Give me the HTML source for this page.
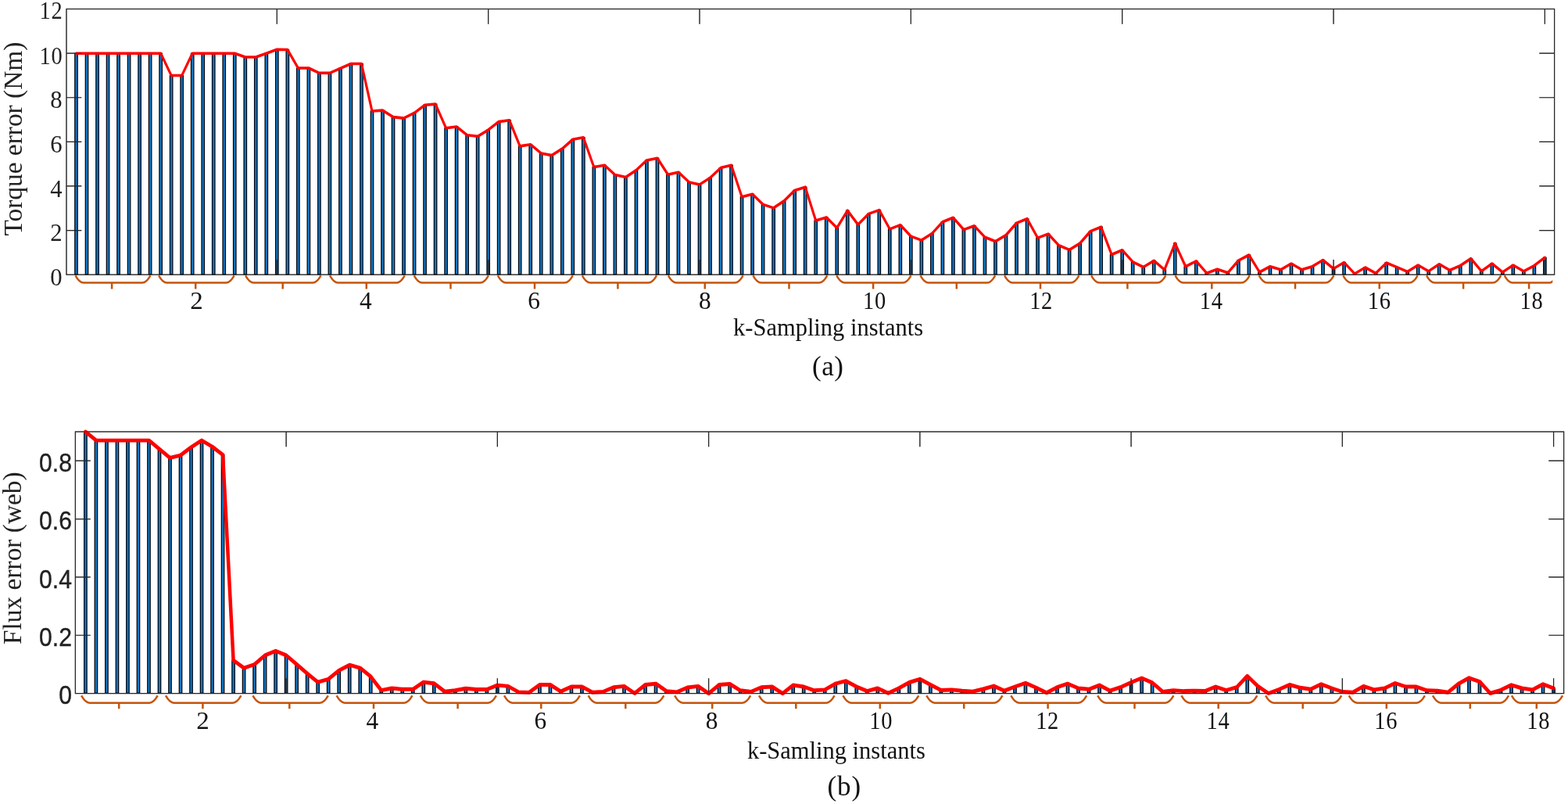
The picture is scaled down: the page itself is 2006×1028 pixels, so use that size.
<!DOCTYPE html>
<html lang="en"><head><meta charset="utf-8"><title>Torque and flux error versus k-sampling instants</title>
<style>html,body{margin:0;padding:0;background:#fff;}body{width:2006px;height:1028px;overflow:hidden;}svg{display:block;}</style>
</head><body>
<svg width="2006" height="1028" viewBox="0 0 2006 1028">
<defs><clipPath id="bc1"><rect x="0" y="340" width="1986.3" height="60"/></clipPath></defs>
<rect width="2006" height="1028" fill="#ffffff"/>
<g fill="#157ac6" stroke="#000510" stroke-width="1.25">
<rect x="95.78" y="68.2" width="3.45" height="282.6"/>
<rect x="109.29" y="68.2" width="3.45" height="282.6"/>
<rect x="122.81" y="68.2" width="3.45" height="282.6"/>
<rect x="136.33" y="68.2" width="3.45" height="282.6"/>
<rect x="149.84" y="68.2" width="3.45" height="282.6"/>
<rect x="163.36" y="68.2" width="3.45" height="282.6"/>
<rect x="176.88" y="68.2" width="3.45" height="282.6"/>
<rect x="190.39" y="68.2" width="3.45" height="282.6"/>
<rect x="203.91" y="68.2" width="3.45" height="282.6"/>
<rect x="217.43" y="96.5" width="3.45" height="254.3"/>
<rect x="230.94" y="96.5" width="3.45" height="254.3"/>
<rect x="244.46" y="68.2" width="3.45" height="282.6"/>
<rect x="257.98" y="68.2" width="3.45" height="282.6"/>
<rect x="271.5" y="68.2" width="3.45" height="282.6"/>
<rect x="285.01" y="68.2" width="3.45" height="282.6"/>
<rect x="298.53" y="68.2" width="3.45" height="282.6"/>
<rect x="312.05" y="73" width="3.45" height="277.8"/>
<rect x="325.56" y="73" width="3.45" height="277.8"/>
<rect x="339.08" y="68.3" width="3.45" height="282.5"/>
<rect x="352.6" y="63.3" width="3.45" height="287.5"/>
<rect x="366.11" y="63.5" width="3.45" height="287.3"/>
<rect x="379.63" y="87" width="3.45" height="263.8"/>
<rect x="393.15" y="87" width="3.45" height="263.8"/>
<rect x="406.67" y="93.3" width="3.45" height="257.5"/>
<rect x="420.18" y="93.4" width="3.45" height="257.4"/>
<rect x="433.7" y="87.4" width="3.45" height="263.4"/>
<rect x="447.22" y="81.5" width="3.45" height="269.3"/>
<rect x="460.73" y="81.5" width="3.45" height="269.3"/>
<rect x="474.25" y="142" width="3.45" height="208.8"/>
<rect x="487.77" y="141.1" width="3.45" height="209.7"/>
<rect x="501.28" y="149.6" width="3.45" height="201.2"/>
<rect x="514.8" y="151.1" width="3.45" height="199.7"/>
<rect x="528.32" y="144.4" width="3.45" height="206.4"/>
<rect x="541.84" y="134.2" width="3.45" height="216.6"/>
<rect x="555.35" y="133.1" width="3.45" height="217.7"/>
<rect x="568.87" y="163.8" width="3.45" height="187"/>
<rect x="582.39" y="162" width="3.45" height="188.8"/>
<rect x="595.9" y="172.8" width="3.45" height="178"/>
<rect x="609.42" y="174.3" width="3.45" height="176.5"/>
<rect x="622.94" y="166.1" width="3.45" height="184.7"/>
<rect x="636.45" y="155.6" width="3.45" height="195.2"/>
<rect x="649.97" y="153.8" width="3.45" height="197"/>
<rect x="663.49" y="186.9" width="3.45" height="163.9"/>
<rect x="677.01" y="184.7" width="3.45" height="166.1"/>
<rect x="690.52" y="195.9" width="3.45" height="154.9"/>
<rect x="704.04" y="198.6" width="3.45" height="152.2"/>
<rect x="717.56" y="190.2" width="3.45" height="160.6"/>
<rect x="731.07" y="178.2" width="3.45" height="172.6"/>
<rect x="744.59" y="175.8" width="3.45" height="175"/>
<rect x="758.11" y="213.6" width="3.45" height="137.2"/>
<rect x="771.62" y="211.2" width="3.45" height="139.6"/>
<rect x="785.14" y="223.6" width="3.45" height="127.2"/>
<rect x="798.66" y="226.6" width="3.45" height="124.2"/>
<rect x="812.18" y="217.6" width="3.45" height="133.2"/>
<rect x="825.69" y="204.9" width="3.45" height="145.9"/>
<rect x="839.21" y="202.2" width="3.45" height="148.6"/>
<rect x="852.73" y="223.2" width="3.45" height="127.6"/>
<rect x="866.24" y="220.2" width="3.45" height="130.6"/>
<rect x="879.76" y="232.9" width="3.45" height="117.9"/>
<rect x="893.28" y="236" width="3.45" height="114.8"/>
<rect x="906.79" y="227.3" width="3.45" height="123.5"/>
<rect x="920.31" y="214.6" width="3.45" height="136.2"/>
<rect x="933.83" y="211.2" width="3.45" height="139.6"/>
<rect x="947.35" y="251.7" width="3.45" height="99.1"/>
<rect x="960.86" y="248.2" width="3.45" height="102.6"/>
<rect x="974.38" y="261.4" width="3.45" height="89.4"/>
<rect x="987.9" y="265.9" width="3.45" height="84.9"/>
<rect x="1001.41" y="256.9" width="3.45" height="93.9"/>
<rect x="1014.93" y="243.4" width="3.45" height="107.4"/>
<rect x="1028.45" y="239.2" width="3.45" height="111.6"/>
<rect x="1041.97" y="282.1" width="3.45" height="68.7"/>
<rect x="1055.48" y="277.9" width="3.45" height="72.9"/>
<rect x="1069" y="291.4" width="3.45" height="59.4"/>
<rect x="1082.52" y="269.2" width="3.45" height="81.6"/>
<rect x="1096.03" y="287.2" width="3.45" height="63.6"/>
<rect x="1109.55" y="273.4" width="3.45" height="77.4"/>
<rect x="1123.07" y="268.6" width="3.45" height="82.2"/>
<rect x="1136.58" y="292.9" width="3.45" height="57.9"/>
<rect x="1150.1" y="287.6" width="3.45" height="63.2"/>
<rect x="1163.62" y="302.1" width="3.45" height="48.7"/>
<rect x="1177.13" y="307.1" width="3.45" height="43.7"/>
<rect x="1190.65" y="298.5" width="3.45" height="52.3"/>
<rect x="1204.17" y="283.8" width="3.45" height="67"/>
<rect x="1217.69" y="278.3" width="3.45" height="72.5"/>
<rect x="1231.2" y="293.6" width="3.45" height="57.2"/>
<rect x="1244.72" y="288.7" width="3.45" height="62.1"/>
<rect x="1258.24" y="303.3" width="3.45" height="47.5"/>
<rect x="1271.75" y="308.6" width="3.45" height="42.2"/>
<rect x="1285.27" y="300.6" width="3.45" height="50.2"/>
<rect x="1298.79" y="285.1" width="3.45" height="65.7"/>
<rect x="1312.31" y="279.7" width="3.45" height="71.1"/>
<rect x="1325.82" y="304.1" width="3.45" height="46.7"/>
<rect x="1339.34" y="299.1" width="3.45" height="51.7"/>
<rect x="1352.86" y="313.8" width="3.45" height="37"/>
<rect x="1366.37" y="319.4" width="3.45" height="31.4"/>
<rect x="1379.89" y="311.1" width="3.45" height="39.7"/>
<rect x="1393.41" y="295.6" width="3.45" height="55.2"/>
<rect x="1406.92" y="290.2" width="3.45" height="60.6"/>
<rect x="1420.44" y="325.5" width="3.45" height="25.3"/>
<rect x="1433.96" y="319.8" width="3.45" height="31"/>
<rect x="1447.48" y="334.8" width="3.45" height="16"/>
<rect x="1460.99" y="341.5" width="3.45" height="9.3"/>
<rect x="1474.51" y="333.3" width="3.45" height="17.5"/>
<rect x="1488.03" y="344.9" width="3.45" height="5.9"/>
<rect x="1501.54" y="311.1" width="3.45" height="39.7"/>
<rect x="1515.06" y="340.9" width="3.45" height="9.9"/>
<rect x="1528.58" y="333.8" width="3.45" height="17"/>
<rect x="1542.09" y="349.3" width="3.45" height="1.5"/>
<rect x="1555.61" y="344.2" width="3.45" height="6.6"/>
<rect x="1569.13" y="348.7" width="3.45" height="2.1"/>
<rect x="1582.64" y="333.1" width="3.45" height="17.7"/>
<rect x="1596.16" y="326" width="3.45" height="24.8"/>
<rect x="1609.68" y="348" width="3.45" height="2.8"/>
<rect x="1623.2" y="340.7" width="3.45" height="10.1"/>
<rect x="1636.71" y="344.8" width="3.45" height="6"/>
<rect x="1650.23" y="337" width="3.45" height="13.8"/>
<rect x="1663.75" y="344.8" width="3.45" height="6"/>
<rect x="1677.26" y="340.7" width="3.45" height="10.1"/>
<rect x="1690.78" y="332.5" width="3.45" height="18.3"/>
<rect x="1704.3" y="343.5" width="3.45" height="7.3"/>
<rect x="1717.82" y="335.5" width="3.45" height="15.3"/>
<rect x="1731.33" y="350" width="3.45" height="0.8"/>
<rect x="1744.85" y="342" width="3.45" height="8.8"/>
<rect x="1758.37" y="349.3" width="3.45" height="1.5"/>
<rect x="1771.88" y="336" width="3.45" height="14.8"/>
<rect x="1785.4" y="341.6" width="3.45" height="9.2"/>
<rect x="1798.92" y="347.4" width="3.45" height="3.4"/>
<rect x="1812.43" y="339" width="3.45" height="11.8"/>
<rect x="1825.95" y="346.8" width="3.45" height="4"/>
<rect x="1839.47" y="337.7" width="3.45" height="13.1"/>
<rect x="1852.99" y="345.5" width="3.45" height="5.3"/>
<rect x="1866.5" y="339.6" width="3.45" height="11.2"/>
<rect x="1880.02" y="330.6" width="3.45" height="20.2"/>
<rect x="1893.54" y="346.8" width="3.45" height="4"/>
<rect x="1907.05" y="337" width="3.45" height="13.8"/>
<rect x="1920.57" y="348" width="3.45" height="2.8"/>
<rect x="1934.09" y="339" width="3.45" height="11.8"/>
<rect x="1947.6" y="346.8" width="3.45" height="4"/>
<rect x="1961.12" y="339.6" width="3.45" height="11.2"/>
<rect x="1974.64" y="329.3" width="3.45" height="21.5"/>
</g>
<g stroke="#262626" stroke-width="1.2" fill="none" stroke-linecap="butt"><rect x="85" y="11.5" width="1903.6" height="339.7"/><path d="M85 294.58h19.3M1988.6 294.58h-19.3M85 237.97h19.3M1988.6 237.97h-19.3M85 181.35h19.3M1988.6 181.35h-19.3M85 124.73h19.3M1988.6 124.73h-19.3M85 68.12h19.3M1988.6 68.12h-19.3M354.32 11.5v19.3M354.32 351.2v-19.3M624.66 11.5v19.3M624.66 351.2v-19.3M895 11.5v19.3M895 351.2v-19.3M1165.34 11.5v19.3M1165.34 351.2v-19.3M1435.68 11.5v19.3M1435.68 351.2v-19.3M1706.02 11.5v19.3M1706.02 351.2v-19.3M1976.36 11.5v19.3M1976.36 351.2v-19.3"/></g>
<polyline transform="scale(1 1.16)" points="97.5,58.79 111.02,58.79 124.53,58.79 138.05,58.79 151.57,58.79 165.08,58.79 178.6,58.79 192.12,58.79 205.64,58.79 219.15,83.19 232.67,83.19 246.19,58.79 259.7,58.79 273.22,58.79 286.74,58.79 300.25,58.79 313.77,62.93 327.29,62.93 340.81,58.88 354.32,54.57 367.84,54.74 381.36,75 394.87,75 408.39,80.43 421.91,80.52 435.43,75.34 448.94,70.26 462.46,70.26 475.98,122.41 489.49,121.64 503.01,128.97 516.53,130.26 530.04,124.48 543.56,115.69 557.08,114.74 570.6,141.21 584.11,139.66 597.63,148.97 611.15,150.26 624.66,143.19 638.18,134.14 651.7,132.59 665.21,161.12 678.73,159.22 692.25,168.88 705.76,171.21 719.28,163.97 732.8,153.62 746.32,151.55 759.83,184.14 773.35,182.07 786.87,192.76 800.38,195.34 813.9,187.59 827.42,176.64 840.93,174.31 854.45,192.41 867.97,189.83 881.49,200.78 895,203.45 908.52,195.95 922.04,185 935.55,182.07 949.07,216.98 962.59,213.97 976.11,225.34 989.62,229.22 1003.14,221.47 1016.66,209.83 1030.17,206.21 1043.69,243.19 1057.21,239.57 1070.72,251.21 1084.24,232.07 1097.76,247.59 1111.28,235.69 1124.79,231.55 1138.31,252.5 1151.83,247.93 1165.34,260.43 1178.86,264.74 1192.38,257.33 1205.89,244.66 1219.41,239.91 1232.93,253.1 1246.44,248.88 1259.96,261.47 1273.48,266.03 1287,259.14 1300.51,245.78 1314.03,241.12 1327.55,262.16 1341.06,257.84 1354.58,270.52 1368.1,275.34 1381.62,268.19 1395.13,254.83 1408.65,250.17 1422.17,280.6 1435.68,275.69 1449.2,288.62 1462.72,294.4 1476.23,287.33 1489.75,297.33 1503.27,268.19 1516.78,293.88 1530.3,287.76 1543.82,301.12 1557.34,296.72 1570.85,300.6 1584.37,287.16 1597.89,281.03 1611.4,300 1624.92,293.71 1638.44,297.24 1651.95,290.52 1665.47,297.24 1678.99,293.71 1692.51,286.64 1706.02,296.12 1719.54,289.22 1733.06,301.72 1746.57,294.83 1760.09,301.12 1773.61,289.66 1787.12,294.48 1800.64,299.48 1814.16,292.24 1827.68,298.97 1841.19,291.12 1854.71,297.84 1868.23,292.76 1881.74,285 1895.26,298.97 1908.78,290.52 1922.29,300 1935.81,292.24 1949.33,298.97 1962.85,292.76 1976.36,283.88" fill="none" stroke="#FF0000" stroke-width="3.1" stroke-linejoin="round" stroke-linecap="round"/>
<g stroke="#262626" stroke-width="1.2" fill="none" stroke-linecap="butt" opacity="0.5"><rect x="85" y="11.5" width="1903.6" height="339.7"/><path d="M85 294.58h19.3M1988.6 294.58h-19.3M85 237.97h19.3M1988.6 237.97h-19.3M85 181.35h19.3M1988.6 181.35h-19.3M85 124.73h19.3M1988.6 124.73h-19.3M85 68.12h19.3M1988.6 68.12h-19.3M354.32 11.5v19.3M354.32 351.2v-19.3M624.66 11.5v19.3M624.66 351.2v-19.3M895 11.5v19.3M895 351.2v-19.3M1165.34 11.5v19.3M1165.34 351.2v-19.3M1435.68 11.5v19.3M1435.68 351.2v-19.3M1706.02 11.5v19.3M1706.02 351.2v-19.3M1976.36 11.5v19.3M1976.36 351.2v-19.3"/></g>
<g font-family='"Liberation Serif", "DejaVu Serif", serif' font-size="32" fill="#222" text-anchor="end">
<text transform="translate(79.6 364.9) scale(0.96 1)">0</text>
<text transform="translate(79.6 308.28) scale(0.96 1)">2</text>
<text transform="translate(79.6 251.67) scale(0.96 1)">4</text>
<text transform="translate(79.6 195.05) scale(0.96 1)">6</text>
<text transform="translate(79.6 138.43) scale(0.96 1)">8</text>
<text transform="translate(80.4 81.82) scale(0.89 1)" letter-spacing="0.8">10</text>
<text transform="translate(80.4 24.3) scale(0.89 1)" letter-spacing="0.8">12</text>
</g>
<g fill="none" stroke="#c5540a" stroke-width="2.5" stroke-linecap="butt" clip-path="url(#bc1)">
<path d="M96.5 352.3Q101.7 361.6 106.9 361.6H182Q187.2 361.6 192.4 352.3M143.1 361.6V369.4"/>
<path d="M203.1 352.3Q208.3 361.6 213.5 361.6H289.2Q294.4 361.6 299.6 352.3M250.2 361.6V369.4"/>
<path d="M314.1 352.3Q319.3 361.6 324.5 361.6H400.1Q405.3 361.6 410.5 352.3M361.7 361.6V369.4"/>
<path d="M422 352.3Q427.2 361.6 432.4 361.6H507.3Q512.5 361.6 517.7 352.3M468.8 361.6V369.4"/>
<path d="M529.7 352.3Q534.9 361.6 540.1 361.6H614.5Q619.7 361.6 624.9 352.3M576.5 361.6V369.4"/>
<path d="M636.8 352.3Q642 361.6 647.2 361.6H722.4Q727.6 361.6 732.8 352.3M684 361.6V369.4"/>
<path d="M744.8 352.3Q750 361.6 755.2 361.6H829.6Q834.8 361.6 840 352.3M790.4 361.6V369.4"/>
<path d="M854.9 352.3Q860.1 361.6 865.3 361.6H940.2Q945.4 361.6 950.6 352.3M901.8 361.6V369.4"/>
<path d="M963.4 352.3Q968.6 361.6 973.8 361.6H1047.9Q1053.1 361.6 1058.3 352.3M1009.5 361.6V369.4"/>
<path d="M1070.3 352.3Q1075.5 361.6 1080.7 361.6H1155.1Q1160.3 361.6 1165.5 352.3M1117.1 361.6V369.4"/>
<path d="M1177.5 352.3Q1182.7 361.6 1187.9 361.6H1262.8Q1268 361.6 1273.2 352.3M1223.8 361.6V369.4"/>
<path d="M1285.1 352.3Q1290.3 361.6 1295.5 361.6H1370Q1375.2 361.6 1380.4 352.3M1331 361.6V369.4"/>
<path d="M1396.1 352.3Q1401.3 361.6 1406.5 361.6H1480.9Q1486.1 361.6 1491.3 352.3M1442.4 361.6V369.4"/>
<path d="M1503.5 352.3Q1508.7 361.6 1513.9 361.6H1588.3Q1593.5 361.6 1598.7 352.3M1550.3 361.6V369.4"/>
<path d="M1610.7 352.3Q1615.9 361.6 1621.1 361.6H1696Q1701.2 361.6 1706.4 352.3M1657 361.6V369.4"/>
<path d="M1718.3 352.3Q1723.5 361.6 1728.7 361.6H1803.2Q1808.4 361.6 1813.6 352.3M1764.7 361.6V369.4"/>
<path d="M1825 352.3Q1830.2 361.6 1835.4 361.6H1909.8Q1915 361.6 1920.2 352.3M1872.1 361.6V369.4"/>
<path d="M1924.7 352.3Q1929.9 361.6 1935.1 361.6H1981.8Q1987 361.6 1992.2 352.3M1956.1 361.6V369.4"/>
</g>
<g font-family='"Liberation Serif", "DejaVu Serif", serif' font-size="32" fill="#111" text-anchor="middle">
<text transform="translate(251.5 394.8) scale(1.03 1)">2</text>
<text transform="translate(467.8 394.8) scale(0.98 1)">4</text>
<text transform="translate(683.2 394.8) scale(0.98 1)">6</text>
<text transform="translate(901.8 394.8) scale(0.98 1)">8</text>
<text transform="translate(1119 394.8) scale(0.89 1)" letter-spacing="0.8">10</text>
<text transform="translate(1332.1 394.8) scale(0.89 1)" letter-spacing="0.8">12</text>
<text transform="translate(1549.7 394.8) scale(0.89 1)" letter-spacing="0.8">14</text>
<text transform="translate(1764.7 394.8) scale(0.89 1)" letter-spacing="0.8">16</text>
<text transform="translate(1959.5 394.8) scale(0.89 1)" letter-spacing="0.8">18</text>
</g>
<g fill="#157ac6" stroke="#000510" stroke-width="1.25">
<rect x="107.68" y="552" width="3.45" height="334.2"/>
<rect x="121.19" y="563.1" width="3.45" height="323.1"/>
<rect x="134.7" y="563.1" width="3.45" height="323.1"/>
<rect x="148.21" y="563.1" width="3.45" height="323.1"/>
<rect x="161.72" y="563.1" width="3.45" height="323.1"/>
<rect x="175.24" y="563.1" width="3.45" height="323.1"/>
<rect x="188.75" y="563.1" width="3.45" height="323.1"/>
<rect x="202.26" y="574.3" width="3.45" height="311.9"/>
<rect x="215.77" y="585.4" width="3.45" height="300.8"/>
<rect x="229.28" y="582.1" width="3.45" height="304.1"/>
<rect x="242.8" y="571.8" width="3.45" height="314.4"/>
<rect x="256.31" y="563.1" width="3.45" height="323.1"/>
<rect x="269.82" y="571.1" width="3.45" height="315.1"/>
<rect x="283.33" y="581.5" width="3.45" height="304.7"/>
<rect x="296.84" y="844.3" width="3.45" height="41.9"/>
<rect x="310.36" y="854.1" width="3.45" height="32.1"/>
<rect x="323.87" y="849.5" width="3.45" height="36.7"/>
<rect x="337.38" y="837.9" width="3.45" height="48.3"/>
<rect x="350.89" y="832.3" width="3.45" height="53.9"/>
<rect x="364.4" y="837.9" width="3.45" height="48.3"/>
<rect x="377.91" y="849.5" width="3.45" height="36.7"/>
<rect x="391.43" y="861.2" width="3.45" height="25"/>
<rect x="404.94" y="872.2" width="3.45" height="14"/>
<rect x="418.45" y="868.3" width="3.45" height="17.9"/>
<rect x="431.96" y="857.3" width="3.45" height="28.9"/>
<rect x="445.48" y="850.2" width="3.45" height="36"/>
<rect x="458.99" y="854.1" width="3.45" height="32.1"/>
<rect x="472.5" y="865.1" width="3.45" height="21.1"/>
<rect x="486.01" y="882.6" width="3.45" height="3.6"/>
<rect x="499.52" y="880" width="3.45" height="6.2"/>
<rect x="513.03" y="881.3" width="3.45" height="4.9"/>
<rect x="526.55" y="881.3" width="3.45" height="4.9"/>
<rect x="540.06" y="872.2" width="3.45" height="14"/>
<rect x="553.57" y="873.8" width="3.45" height="12.4"/>
<rect x="567.08" y="884.1" width="3.45" height="2.1"/>
<rect x="580.6" y="882.8" width="3.45" height="3.4"/>
<rect x="594.11" y="880.3" width="3.45" height="5.9"/>
<rect x="607.62" y="881.5" width="3.45" height="4.7"/>
<rect x="621.13" y="881.5" width="3.45" height="4.7"/>
<rect x="634.64" y="876.1" width="3.45" height="10.1"/>
<rect x="648.15" y="877.4" width="3.45" height="8.8"/>
<rect x="661.67" y="884.9" width="3.45" height="1.3"/>
<rect x="675.18" y="885.4" width="3.45" height="0.8"/>
<rect x="688.69" y="875.5" width="3.45" height="10.7"/>
<rect x="702.2" y="875.5" width="3.45" height="10.7"/>
<rect x="715.71" y="884.1" width="3.45" height="2.1"/>
<rect x="729.23" y="878" width="3.45" height="8.2"/>
<rect x="742.74" y="878" width="3.45" height="8.2"/>
<rect x="756.25" y="885.2" width="3.45" height="1"/>
<rect x="769.76" y="884.5" width="3.45" height="1.7"/>
<rect x="783.27" y="878.7" width="3.45" height="7.5"/>
<rect x="796.79" y="877.4" width="3.45" height="8.8"/>
<rect x="810.3" y="886.5" width="3.45" height="0.1"/>
<rect x="823.81" y="875.5" width="3.45" height="10.7"/>
<rect x="837.32" y="874.2" width="3.45" height="12"/>
<rect x="850.84" y="883.6" width="3.45" height="2.6"/>
<rect x="864.35" y="884.9" width="3.45" height="1.3"/>
<rect x="877.86" y="879" width="3.45" height="7.2"/>
<rect x="891.37" y="877.4" width="3.45" height="8.8"/>
<rect x="904.88" y="886.7" width="3.45" height="0.1"/>
<rect x="918.39" y="875.5" width="3.45" height="10.7"/>
<rect x="931.91" y="874.5" width="3.45" height="11.7"/>
<rect x="945.42" y="882.8" width="3.45" height="3.4"/>
<rect x="958.93" y="884.5" width="3.45" height="1.7"/>
<rect x="972.44" y="878.7" width="3.45" height="7.5"/>
<rect x="985.95" y="878" width="3.45" height="8.2"/>
<rect x="999.47" y="886.7" width="3.45" height="0.1"/>
<rect x="1012.98" y="876" width="3.45" height="10.2"/>
<rect x="1026.49" y="878" width="3.45" height="8.2"/>
<rect x="1040" y="882.8" width="3.45" height="3.4"/>
<rect x="1053.52" y="881.9" width="3.45" height="4.3"/>
<rect x="1067.03" y="874.2" width="3.45" height="12"/>
<rect x="1080.54" y="870.7" width="3.45" height="15.5"/>
<rect x="1094.05" y="878" width="3.45" height="8.2"/>
<rect x="1107.56" y="883.6" width="3.45" height="2.6"/>
<rect x="1121.08" y="880" width="3.45" height="6.2"/>
<rect x="1134.59" y="886.2" width="3.45" height="0.1"/>
<rect x="1148.1" y="880" width="3.45" height="6.2"/>
<rect x="1161.61" y="872.5" width="3.45" height="13.7"/>
<rect x="1175.12" y="868.3" width="3.45" height="17.9"/>
<rect x="1188.64" y="875.5" width="3.45" height="10.7"/>
<rect x="1202.15" y="882.6" width="3.45" height="3.6"/>
<rect x="1215.66" y="881.9" width="3.45" height="4.3"/>
<rect x="1229.17" y="883.2" width="3.45" height="3"/>
<rect x="1242.68" y="884.1" width="3.45" height="2.1"/>
<rect x="1256.2" y="881" width="3.45" height="5.2"/>
<rect x="1269.71" y="877.1" width="3.45" height="9.1"/>
<rect x="1283.22" y="883.2" width="3.45" height="3"/>
<rect x="1296.73" y="878" width="3.45" height="8.2"/>
<rect x="1310.24" y="873.3" width="3.45" height="12.9"/>
<rect x="1323.76" y="879.3" width="3.45" height="6.9"/>
<rect x="1337.27" y="885.8" width="3.45" height="0.4"/>
<rect x="1350.78" y="878.7" width="3.45" height="7.5"/>
<rect x="1364.29" y="874.2" width="3.45" height="12"/>
<rect x="1377.8" y="880" width="3.45" height="6.2"/>
<rect x="1391.32" y="881.3" width="3.45" height="4.9"/>
<rect x="1404.83" y="876.1" width="3.45" height="10.1"/>
<rect x="1418.34" y="883.2" width="3.45" height="3"/>
<rect x="1431.85" y="878.7" width="3.45" height="7.5"/>
<rect x="1445.36" y="872.5" width="3.45" height="13.7"/>
<rect x="1458.88" y="867" width="3.45" height="19.2"/>
<rect x="1472.39" y="872.9" width="3.45" height="13.3"/>
<rect x="1485.9" y="884.5" width="3.45" height="1.7"/>
<rect x="1499.41" y="882.8" width="3.45" height="3.4"/>
<rect x="1512.92" y="883.6" width="3.45" height="2.6"/>
<rect x="1526.44" y="883.2" width="3.45" height="3"/>
<rect x="1539.95" y="883.6" width="3.45" height="2.6"/>
<rect x="1553.46" y="878" width="3.45" height="8.2"/>
<rect x="1566.97" y="882.6" width="3.45" height="3.6"/>
<rect x="1580.48" y="878.7" width="3.45" height="7.5"/>
<rect x="1594" y="864.4" width="3.45" height="21.8"/>
<rect x="1607.51" y="877.4" width="3.45" height="8.8"/>
<rect x="1621.02" y="886.5" width="3.45" height="0.1"/>
<rect x="1634.53" y="881.5" width="3.45" height="4.7"/>
<rect x="1648.04" y="875.5" width="3.45" height="10.7"/>
<rect x="1661.56" y="879.3" width="3.45" height="6.9"/>
<rect x="1675.07" y="881.3" width="3.45" height="4.9"/>
<rect x="1688.58" y="874.8" width="3.45" height="11.4"/>
<rect x="1702.09" y="880" width="3.45" height="6.2"/>
<rect x="1715.6" y="884.5" width="3.45" height="1.7"/>
<rect x="1729.12" y="885.2" width="3.45" height="1"/>
<rect x="1742.63" y="877.4" width="3.45" height="8.8"/>
<rect x="1756.14" y="881.9" width="3.45" height="4.3"/>
<rect x="1769.65" y="880" width="3.45" height="6.2"/>
<rect x="1783.16" y="873.5" width="3.45" height="12.7"/>
<rect x="1796.68" y="878" width="3.45" height="8.2"/>
<rect x="1810.19" y="878" width="3.45" height="8.2"/>
<rect x="1823.7" y="882.8" width="3.45" height="3.4"/>
<rect x="1837.21" y="883.2" width="3.45" height="3"/>
<rect x="1850.72" y="885.2" width="3.45" height="1"/>
<rect x="1864.24" y="874.2" width="3.45" height="12"/>
<rect x="1877.75" y="866.8" width="3.45" height="19.4"/>
<rect x="1891.26" y="871.6" width="3.45" height="14.6"/>
<rect x="1904.77" y="886.5" width="3.45" height="0.1"/>
<rect x="1918.28" y="882.3" width="3.45" height="3.9"/>
<rect x="1931.8" y="875.8" width="3.45" height="10.4"/>
<rect x="1945.31" y="880" width="3.45" height="6.2"/>
<rect x="1958.82" y="881.9" width="3.45" height="4.3"/>
<rect x="1972.33" y="874.8" width="3.45" height="11.4"/>
<rect x="1985.84" y="880" width="3.45" height="6.2"/>
</g>
<g stroke="#262626" stroke-width="1.2" fill="none" stroke-linecap="butt"><rect x="96.4" y="552" width="1904.2" height="334.6"/><path d="M96.4 812.24h19.3M2000.6 812.24h-19.3M96.4 737.89h19.3M2000.6 737.89h-19.3M96.4 663.53h19.3M2000.6 663.53h-19.3M96.4 589.18h19.3M2000.6 589.18h-19.3M366.13 552v19.3M366.13 886.6v-19.3M636.37 552v19.3M636.37 886.6v-19.3M906.61 552v19.3M906.61 886.6v-19.3M1176.85 552v19.3M1176.85 886.6v-19.3M1447.09 552v19.3M1447.09 886.6v-19.3M1717.33 552v19.3M1717.33 886.6v-19.3M1987.57 552v19.3M1987.57 886.6v-19.3"/></g>
<polyline transform="scale(1 1.1)" points="109.4,501.82 122.91,511.91 136.42,511.91 149.94,511.91 163.45,511.91 176.96,511.91 190.47,511.91 203.98,522.09 217.5,532.18 231.01,529.18 244.52,519.82 258.03,511.91 271.54,519.18 285.06,528.64 298.57,767.55 312.08,776.45 325.59,772.27 339.1,761.73 352.62,756.64 366.13,761.73 379.64,772.27 393.15,782.91 406.66,792.91 420.18,789.36 433.69,779.36 447.2,772.91 460.71,776.45 474.22,786.45 487.74,802.36 501.25,800 514.76,801.18 528.27,801.18 541.78,792.91 555.3,794.36 568.81,803.73 582.32,802.55 595.83,800.27 609.34,801.36 622.86,801.36 636.37,796.45 649.88,797.64 663.39,804.45 676.9,804.91 690.42,795.91 703.93,795.91 717.44,803.73 730.95,798.18 744.46,798.18 757.98,804.73 771.49,804.09 785,798.82 798.51,797.64 812.02,805.91 825.54,795.91 839.05,794.73 852.56,803.27 866.07,804.45 879.58,799.09 893.1,797.64 906.61,806.09 920.12,795.91 933.63,795 947.14,802.55 960.66,804.09 974.17,798.82 987.68,798.18 1001.19,806.09 1014.7,796.36 1028.22,798.18 1041.73,802.55 1055.24,801.73 1068.75,794.73 1082.26,791.55 1095.78,798.18 1109.29,803.27 1122.8,800 1136.31,805.64 1149.82,800 1163.34,793.18 1176.85,789.36 1190.36,795.91 1203.87,802.36 1217.38,801.73 1230.9,802.91 1244.41,803.73 1257.92,800.91 1271.43,797.36 1284.94,802.91 1298.46,798.18 1311.97,793.91 1325.48,799.36 1338.99,805.27 1352.5,798.82 1366.02,794.73 1379.53,800 1393.04,801.18 1406.55,796.45 1420.06,802.91 1433.58,798.82 1447.09,793.18 1460.6,788.18 1474.11,793.55 1487.62,804.09 1501.14,802.55 1514.65,803.27 1528.16,802.91 1541.67,803.27 1555.18,798.18 1568.7,802.36 1582.21,798.82 1595.72,785.82 1609.23,797.64 1622.74,805.91 1636.26,801.36 1649.77,795.91 1663.28,799.36 1676.79,801.18 1690.3,795.27 1703.82,800 1717.33,804.09 1730.84,804.73 1744.35,797.64 1757.86,801.73 1771.38,800 1784.89,794.09 1798.4,798.18 1811.91,798.18 1825.42,802.55 1838.94,802.91 1852.45,804.73 1865.96,794.73 1879.47,788 1892.98,792.36 1906.5,805.91 1920.01,802.09 1933.52,796.18 1947.03,800 1960.54,801.73 1974.06,795.27 1987.57,800" fill="none" stroke="#FF0000" stroke-width="4.5" stroke-linejoin="round" stroke-linecap="round"/>
<g stroke="#262626" stroke-width="1.2" fill="none" stroke-linecap="butt" opacity="0.5"><rect x="96.4" y="552" width="1904.2" height="334.6"/><path d="M96.4 812.24h19.3M2000.6 812.24h-19.3M96.4 737.89h19.3M2000.6 737.89h-19.3M96.4 663.53h19.3M2000.6 663.53h-19.3M96.4 589.18h19.3M2000.6 589.18h-19.3M366.13 552v19.3M366.13 886.6v-19.3M636.37 552v19.3M636.37 886.6v-19.3M906.61 552v19.3M906.61 886.6v-19.3M1176.85 552v19.3M1176.85 886.6v-19.3M1447.09 552v19.3M1447.09 886.6v-19.3M1717.33 552v19.3M1717.33 886.6v-19.3M1987.57 552v19.3M1987.57 886.6v-19.3"/></g>
<g font-family='"Liberation Sans", "DejaVu Sans", sans-serif' font-size="33.9" fill="#222" text-anchor="end" stroke="#111" stroke-width="0.35">
<text transform="translate(92 900.3) scale(0.89 1)">0</text>
<text transform="translate(92 825.94) scale(0.89 1)">0.2</text>
<text transform="translate(92 751.59) scale(0.89 1)">0.4</text>
<text transform="translate(92 677.23) scale(0.89 1)">0.6</text>
<text transform="translate(92 602.88) scale(0.89 1)">0.8</text>
</g>
<g fill="none" stroke="#c5540a" stroke-width="2.5" stroke-linecap="butt">
<path d="M104.1 889.4Q109.3 898.7 114.5 898.7H191.3Q196.5 898.7 201.7 889.4M152.2 898.7V906.2"/>
<path d="M212 889.4Q217.2 898.7 222.4 898.7H298Q303.2 898.7 308.4 889.4M259.4 898.7V906.2"/>
<path d="M323.4 889.4Q328.6 898.7 333.8 898.7H409.4Q414.6 898.7 419.8 889.4M370.3 898.7V906.2"/>
<path d="M430.6 889.4Q435.8 898.7 441 898.7H517.1Q522.3 898.7 527.5 889.4M478 898.7V906.2"/>
<path d="M537.8 889.4Q543 898.7 548.2 898.7H624.5Q629.7 898.7 634.9 889.4M585.6 898.7V906.2"/>
<path d="M645 889.4Q650.2 898.7 655.4 898.7H731.5Q736.7 898.7 741.9 889.4M692.3 898.7V906.2"/>
<path d="M752.6 889.4Q757.8 898.7 763 898.7H838.9Q844.1 898.7 849.3 889.4M800.3 898.7V906.2"/>
<path d="M863.1 889.4Q868.3 898.7 873.5 898.7H949.8Q955 898.7 960.2 889.4M911.2 898.7V906.2"/>
<path d="M971 889.4Q976.2 898.7 981.4 898.7H1057.2Q1062.4 898.7 1067.6 889.4M1018.3 898.7V906.2"/>
<path d="M1078.4 889.4Q1083.6 898.7 1088.8 898.7H1164.9Q1170.1 898.7 1175.3 889.4M1125.8 898.7V906.2"/>
<path d="M1185.3 889.4Q1190.5 898.7 1195.7 898.7H1272.1Q1277.3 898.7 1282.5 889.4M1233.2 898.7V906.2"/>
<path d="M1293.3 889.4Q1298.5 898.7 1303.7 898.7H1379.8Q1385 898.7 1390.2 889.4M1340.6 898.7V906.2"/>
<path d="M1404.2 889.4Q1409.4 898.7 1414.6 898.7H1491Q1496.2 898.7 1501.4 889.4M1451.5 898.7V906.2"/>
<path d="M1511.4 889.4Q1516.6 898.7 1521.8 898.7H1597.9Q1603.1 898.7 1608.3 889.4M1558.7 898.7V906.2"/>
<path d="M1619.1 889.4Q1624.3 898.7 1629.5 898.7H1705.8Q1711 898.7 1716.2 889.4M1666.7 898.7V906.2"/>
<path d="M1725.7 889.4Q1730.9 898.7 1736.1 898.7H1812.5Q1817.7 898.7 1822.9 889.4M1773.8 898.7V906.2"/>
<path d="M1832.9 889.4Q1838.1 898.7 1843.3 898.7H1919.7Q1924.9 898.7 1930.1 889.4M1880.8 898.7V906.2"/>
<path d="M1933.9 889.4Q1939.1 898.7 1944.3 898.7H1988.7Q1993.9 898.7 1999.1 889.4M1965.8 898.7V906.2"/>
</g>
<g font-family='"Liberation Serif", "DejaVu Serif", serif' font-size="32" fill="#111" text-anchor="middle">
<text transform="translate(259.5 931.7) scale(1.03 1)">2</text>
<text transform="translate(476.3 931.7) scale(0.98 1)">4</text>
<text transform="translate(691.4 931.7) scale(0.98 1)">6</text>
<text transform="translate(910.5 931.7) scale(0.98 1)">8</text>
<text transform="translate(1127.2 931.7) scale(0.89 1)" letter-spacing="0.8">10</text>
<text transform="translate(1340.1 931.7) scale(0.89 1)" letter-spacing="0.8">12</text>
<text transform="translate(1558.4 931.7) scale(0.89 1)" letter-spacing="0.8">14</text>
<text transform="translate(1773.3 931.7) scale(0.89 1)" letter-spacing="0.8">16</text>
<text transform="translate(1968.2 931.7) scale(0.89 1)" letter-spacing="0.8">18</text>
</g>
<g font-family='"Liberation Serif", "DejaVu Serif", serif' fill="#111" text-anchor="middle">
<text x="1059.6" y="428.7" font-size="30.5">k-Sampling instants</text>
<text x="1069.85" y="969.7" font-size="30.5">k-Samling instants</text>
<text x="1059.3" y="479.6" font-size="35" letter-spacing="0.6">(a)</text>
<text x="1080.25" y="1016.6" font-size="35" letter-spacing="0.9">(b)</text>
<text transform="translate(27.9 177.6) rotate(-90)" font-size="33.4" fill="#222">Torque error (Nm)</text>
<text transform="translate(26.6 713.65) rotate(-90)" font-size="33.4" fill="#222">Flux error (web)</text>
</g>
</svg>
</body></html>
